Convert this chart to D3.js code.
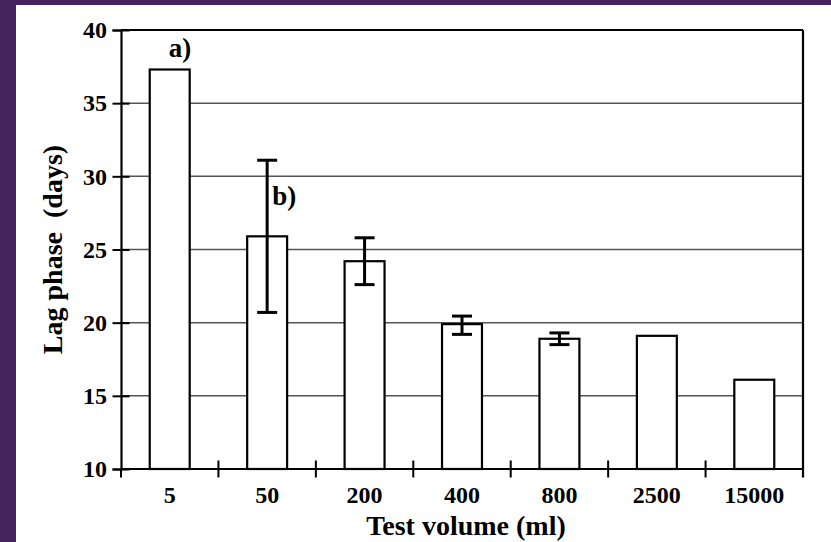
<!DOCTYPE html>
<html>
<head>
<meta charset="utf-8">
<script src="https://cdn.jsdelivr.net/npm/d3@7"></script>
<style>
  body { margin: 0; background: #46225c; }
  svg { display: block; }
</style>
</head>
<body>
<div id="chart"></div>
<script>
// values
const volumes = ["5", "50", "200", "400", "800", "2500", "15000"];
const lagDays = [37.3, 25.9, 24.2, 19.9, 18.9, 19.1, 16.1];
const errLow  = [null, 20.7, 22.6, 19.2, 18.5, null, null];
const errHigh = [null, 31.1, 25.8, 20.45, 19.3, null, null];
const yTicks = [10, 15, 20, 25, 30, 35, 40];
const notes = [{cat: "5", value: 37.3, label: "a)"}, {cat: "50", value: 31.1, label: "b)"}];

const width = 831, height = 542;
const margin = {top: 30, right: 28, bottom: 73, left: 121};
const font = "'Liberation Serif', 'Times New Roman', serif";

const svg = d3.select("#chart").append("svg")
  .attr("width", width).attr("height", height);

// white sheet inside the purple frame
svg.append("rect")
  .attr("x", 16).attr("y", 5)
  .attr("width", width - 16).attr("height", height - 5)
  .attr("fill", "white");

const x = d3.scaleBand()
  .domain(volumes)
  .range([margin.left, width - margin.right])
  .padding(0);

const y = d3.scaleLinear()
  .domain([10, 40])
  .range([height - margin.bottom, margin.top]);

const x0 = margin.left, x1 = width - margin.right;
const barW = x.bandwidth() * 0.41;

// grid lines
svg.append("g")
  .selectAll("line")
  .data(yTicks.filter(d => d > 10 && d < 40))
  .join("line")
    .attr("x1", x0).attr("x2", x1)
    .attr("y1", d => y(d)).attr("y2", d => y(d))
    .attr("stroke", "#555")
    .attr("stroke-width", 1.5);

// bars
const data = volumes.map((v, i) => ({cat: v, val: lagDays[i], lo: errLow[i], hi: errHigh[i]}));

svg.append("g")
  .selectAll("rect")
  .data(data)
  .join("rect")
    .attr("x", d => x(d.cat) + (x.bandwidth() - barW) / 2)
    .attr("y", d => y(d.val))
    .attr("width", barW)
    .attr("height", d => y(10) - y(d.val))
    .attr("fill", "white")
    .attr("stroke", "black")
    .attr("stroke-width", 2.2);

// error bars
const eb = svg.append("g")
  .attr("stroke", "black")
  .attr("stroke-width", 3)
  .selectAll("g")
  .data(data.filter(d => d.lo != null))
  .join("g")
    .attr("transform", d => `translate(${x(d.cat) + x.bandwidth() / 2},0)`);

eb.append("line")
  .attr("y1", d => y(d.lo)).attr("y2", d => y(d.hi));
eb.append("line")
  .attr("x1", -10).attr("x2", 10)
  .attr("y1", d => y(d.hi)).attr("y2", d => y(d.hi));
eb.append("line")
  .attr("x1", -10).attr("x2", 10)
  .attr("y1", d => y(d.lo)).attr("y2", d => y(d.lo));

// frame: top and right
svg.append("line")
  .attr("x1", x0).attr("x2", x1)
  .attr("y1", y(40)).attr("y2", y(40))
  .attr("stroke", "black").attr("stroke-width", 2.2);
svg.append("line")
  .attr("x1", x1).attr("x2", x1)
  .attr("y1", y(40)).attr("y2", y(10) + 8.5)
  .attr("stroke", "black").attr("stroke-width", 2.2);

// y axis
const yAxis = svg.append("g")
  .attr("transform", `translate(${x0},0)`)
  .call(d3.axisLeft(y).tickValues(yTicks).tickSize(8.5).tickPadding(7))
  .call(g => g.select(".domain").attr("stroke-width", 2.2))
  .call(g => g.selectAll(".tick line").attr("x2", 8.5).attr("x1", -8.5).attr("stroke-width", 2))
  .call(g => g.selectAll("text")
      .attr("x", -14)
      .style("font", `bold 24px ${font}`)
      .attr("fill", "black"));

// x axis, ticks on the band edges
const xAxis = svg.append("g")
  .attr("transform", `translate(0,${y(10)})`);

xAxis.append("line")
  .attr("x1", x0).attr("x2", x1)
  .attr("stroke", "black").attr("stroke-width", 2.2);

xAxis.selectAll(".edge")
  .data(volumes.slice(1))
  .join("line")
    .attr("class", "edge")
    .attr("x1", d => x(d)).attr("x2", d => x(d))
    .attr("y1", -8.5).attr("y2", 8.5)
    .attr("stroke", "black").attr("stroke-width", 2);

xAxis.append("line")
  .attr("x1", x0).attr("x2", x0)
  .attr("y1", 0).attr("y2", 8.5)
  .attr("stroke", "black").attr("stroke-width", 2);

xAxis.selectAll("text")
  .data(volumes)
  .join("text")
    .attr("x", d => x(d) + x.bandwidth() / 2)
    .attr("y", 34)
    .attr("text-anchor", "middle")
    .style("font", `bold 24px ${font}`)
    .text(d => d);

// axis titles
svg.append("text")
  .attr("x", (x0 + x1) / 2 + 4)
  .attr("y", 535)
  .attr("text-anchor", "middle")
  .style("font", `bold 28px ${font}`)
  .text("Test volume (ml)");

svg.append("text")
  .attr("transform", `translate(62,${(y(10) + y(40)) / 2}) rotate(-90)`)
  .attr("text-anchor", "middle")
  .style("font", `bold 28px ${font}`)
  .style("white-space", "pre")
  .text("Lag phase\u00a0\u00a0(days)");

// a) and b) annotations
svg.append("g")
  .selectAll("text")
  .data(notes)
  .join("text")
    .attr("x", (d, i) => x(d.cat) + x.bandwidth() / 2 + (i === 0 ? -1 : 5))
    .attr("y", (d, i) => i === 0 ? y(d.value) - 13 : y(d.value) + 45)
    .style("font", `bold 27px ${font}`)
    .text(d => d.label);
</script>
</body>
</html>
